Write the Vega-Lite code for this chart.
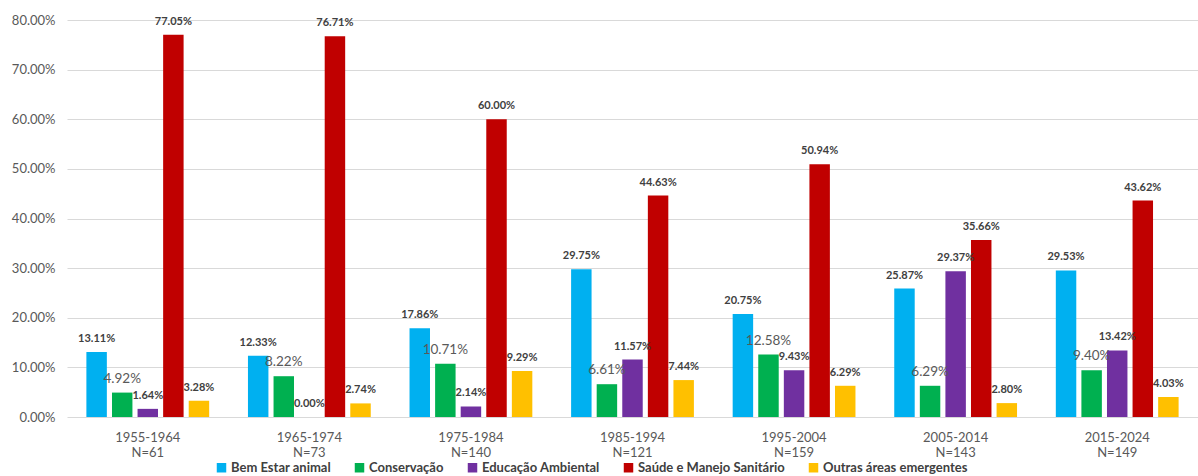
{
  "$schema": "https://vega.github.io/schema/vega-lite/v6.json",
  "width": 1131,
  "height": 397,
  "autosize": "none",
  "padding": {"left": 67, "top": 20, "right": 0, "bottom": 59},
  "background": "white",
  "config": {
    "font": "Lato",
    "view": {"stroke": null}
  },
  "data": {
    "values": [
      {"periodo": "1955-1964|N=61", "area": "Bem Estar animal", "valor": 0.1311},
      {"periodo": "1955-1964|N=61", "area": "Conservação", "valor": 0.0492},
      {"periodo": "1955-1964|N=61", "area": "Educação Ambiental", "valor": 0.0164},
      {"periodo": "1955-1964|N=61", "area": "Saúde e Manejo Sanitário", "valor": 0.7705},
      {"periodo": "1955-1964|N=61", "area": "Outras áreas emergentes", "valor": 0.0328},
      {"periodo": "1965-1974|N=73", "area": "Bem Estar animal", "valor": 0.1233},
      {"periodo": "1965-1974|N=73", "area": "Conservação", "valor": 0.0822},
      {"periodo": "1965-1974|N=73", "area": "Educação Ambiental", "valor": 0.0},
      {"periodo": "1965-1974|N=73", "area": "Saúde e Manejo Sanitário", "valor": 0.7671},
      {"periodo": "1965-1974|N=73", "area": "Outras áreas emergentes", "valor": 0.0274},
      {"periodo": "1975-1984|N=140", "area": "Bem Estar animal", "valor": 0.1786},
      {"periodo": "1975-1984|N=140", "area": "Conservação", "valor": 0.1071},
      {"periodo": "1975-1984|N=140", "area": "Educação Ambiental", "valor": 0.0214},
      {"periodo": "1975-1984|N=140", "area": "Saúde e Manejo Sanitário", "valor": 0.6},
      {"periodo": "1975-1984|N=140", "area": "Outras áreas emergentes", "valor": 0.0929},
      {"periodo": "1985-1994|N=121", "area": "Bem Estar animal", "valor": 0.2975},
      {"periodo": "1985-1994|N=121", "area": "Conservação", "valor": 0.0661},
      {"periodo": "1985-1994|N=121", "area": "Educação Ambiental", "valor": 0.1157},
      {"periodo": "1985-1994|N=121", "area": "Saúde e Manejo Sanitário", "valor": 0.4463},
      {"periodo": "1985-1994|N=121", "area": "Outras áreas emergentes", "valor": 0.0744},
      {"periodo": "1995-2004|N=159", "area": "Bem Estar animal", "valor": 0.2075},
      {"periodo": "1995-2004|N=159", "area": "Conservação", "valor": 0.1258},
      {"periodo": "1995-2004|N=159", "area": "Educação Ambiental", "valor": 0.0943},
      {"periodo": "1995-2004|N=159", "area": "Saúde e Manejo Sanitário", "valor": 0.5094},
      {"periodo": "1995-2004|N=159", "area": "Outras áreas emergentes", "valor": 0.0629},
      {"periodo": "2005-2014|N=143", "area": "Bem Estar animal", "valor": 0.2587},
      {"periodo": "2005-2014|N=143", "area": "Conservação", "valor": 0.0629},
      {"periodo": "2005-2014|N=143", "area": "Educação Ambiental", "valor": 0.2937},
      {"periodo": "2005-2014|N=143", "area": "Saúde e Manejo Sanitário", "valor": 0.3566},
      {"periodo": "2005-2014|N=143", "area": "Outras áreas emergentes", "valor": 0.028},
      {"periodo": "2015-2024|N=149", "area": "Bem Estar animal", "valor": 0.2953},
      {"periodo": "2015-2024|N=149", "area": "Conservação", "valor": 0.094},
      {"periodo": "2015-2024|N=149", "area": "Educação Ambiental", "valor": 0.1342},
      {"periodo": "2015-2024|N=149", "area": "Saúde e Manejo Sanitário", "valor": 0.4362},
      {"periodo": "2015-2024|N=149", "area": "Outras áreas emergentes", "valor": 0.0403}
    ]
  },
  "encoding": {
    "x": {
      "field": "periodo",
      "type": "nominal",
      "sort": null,
      "scale": {"paddingInner": 0.24, "paddingOuter": 0.12},
      "axis": {
        "title": null,
        "labelAngle": 0,
        "labelExpr": "split(datum.value, '|')",
        "labelFontSize": 13,
        "labelColor": "#595959",
        "labelPadding": 14,
        "labelLineHeight": 15,
        "ticks": false,
        "domain": false
      }
    },
    "xOffset": {
      "field": "area",
      "type": "nominal",
      "sort": ["Bem Estar animal", "Conservação", "Educação Ambiental", "Saúde e Manejo Sanitário", "Outras áreas emergentes"],
      "scale": {"paddingInner": 0.2}
    },
    "y": {
      "field": "valor",
      "type": "quantitative",
      "scale": {"domain": [0, 0.8], "nice": false},
      "axis": {
        "title": null,
        "format": ".2%",
        "values": [0, 0.1, 0.2, 0.3, 0.4, 0.5, 0.6, 0.7, 0.8],
        "labelOverlap": false,
        "labelFontSize": 13,
        "labelColor": "#595959",
        "labelPadding": 12,
        "ticks": false,
        "domain": false,
        "gridColor": "#d9d9d9",
        "gridWidth": 1.2
      }
    }
  },
  "layer": [
    {
      "mark": {"type": "bar"},
      "encoding": {
        "color": {
          "field": "area",
          "type": "nominal",
          "sort": ["Bem Estar animal", "Conservação", "Educação Ambiental", "Saúde e Manejo Sanitário", "Outras áreas emergentes"],
          "scale": {
            "domain": ["Bem Estar animal", "Conservação", "Educação Ambiental", "Saúde e Manejo Sanitário", "Outras áreas emergentes"],
            "range": ["#00B0F0", "#00B050", "#7030A0", "#C00000", "#FFC000"]
          },
          "legend": {
            "title": null,
            "orient": "none",
            "direction": "horizontal",
            "columns": 5,
            "legendX": 148,
            "legendY": 441,
            "symbolType": "square",
            "symbolSize": 90,
            "symbolStrokeWidth": 0,
            "labelFontSize": 13,
            "labelFontWeight": "bold",
            "labelColor": "#404040",
            "columnPadding": 22,
            "labelOffset": 3
          }
        }
      }
    },
    {
      "transform": [{"filter": "datum.area !== 'Conservação'"}],
      "mark": {"type": "text", "baseline": "bottom", "dy": -8, "fontSize": 11, "fontWeight": "bold", "color": "#404040"},
      "encoding": {
        "text": {"field": "valor", "type": "quantitative", "format": ".2%"}
      }
    },
    {
      "transform": [{"filter": "datum.area === 'Conservação'"}],
      "mark": {"type": "text", "baseline": "bottom", "dy": -7, "fontSize": 13.5, "color": "#595959"},
      "encoding": {
        "text": {"field": "valor", "type": "quantitative", "format": ".2%"}
      }
    }
  ]
}
